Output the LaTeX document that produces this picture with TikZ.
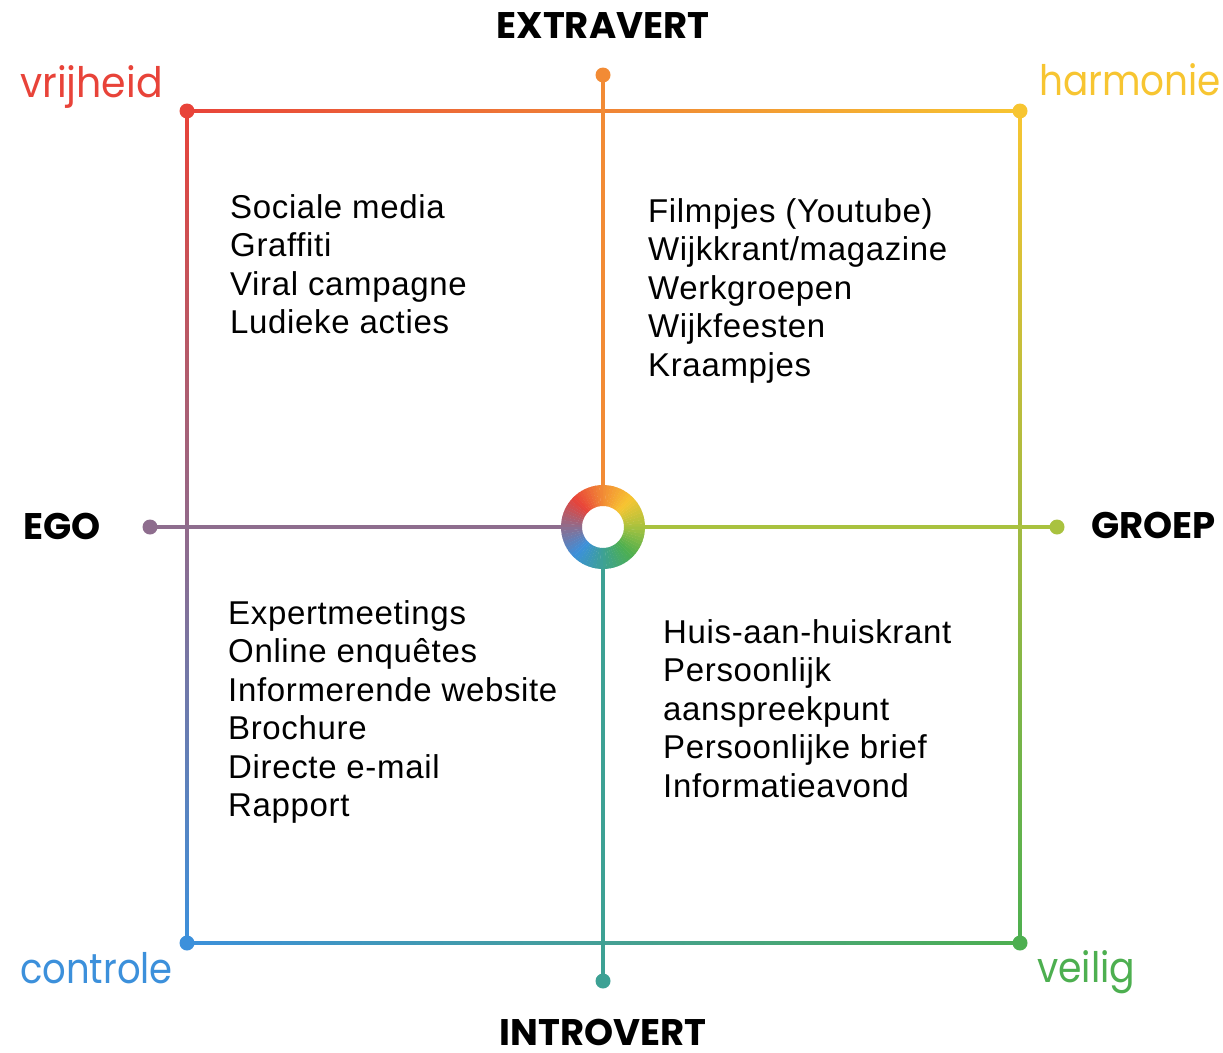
\documentclass[tikz,border=0pt]{standalone}
\usepackage{fontspec}
\setmainfont{Liberation Sans}[LetterSpace=2]
\newfontfamily\pop{Poppins}
\usetikzlibrary{calc}
\definecolor{cRe}{HTML}{E84339}
\definecolor{cOr}{HTML}{F28B35}
\definecolor{cYe}{HTML}{F7C531}
\definecolor{cPu}{HTML}{8E6D8E}
\definecolor{cGr}{HTML}{A9C23F}
\definecolor{cBl}{HTML}{3C90DB}
\definecolor{cTe}{HTML}{3DA194}
\definecolor{cGn}{HTML}{4DAF50}
\newcommand{\polefit}[1]{\scalebox{0.9}[1]{#1}}
\tikzset{
  dot/.style={circle,inner sep=0pt,minimum size=15pt},
  body/.style={font=\fontsize{33}{38.5}\selectfont,align=left,anchor=base west,inner sep=0pt},
  pole/.style={font=\pop\fontsize{42}{42}\selectfont,anchor=base west,inner sep=0pt},
  axislabel/.style={font=\pop\bfseries\fontsize{37}{37}\selectfont,inner sep=0pt,text depth=0pt},
  axisline/.style={line width=3.5pt}
}
\begin{document}
\begin{tikzpicture}[x=1pt,y=1pt]
\useasboundingbox (0,0) rectangle (1223,-1052);
% key points
\coordinate (tl) at (187,-111);
\coordinate (tr) at (1020,-111);
\coordinate (bl) at (187,-943);
\coordinate (br) at (1020,-943);
\coordinate (c) at (603,-527);
\coordinate (top) at (603,-75);
\coordinate (bot) at (603,-981);
\coordinate (lft) at (150,-527);
\coordinate (rgt) at (1057,-527);
% square edges with gradients
\shade[left color=cRe,right color=cYe] ($(tl)+(0,1.75)$) rectangle ($(tr)+(0,-1.75)$);
\shade[left color=cBl,right color=cGn] ($(bl)+(0,1.75)$) rectangle ($(br)+(0,-1.75)$);
\shade[top color=cRe,bottom color=cBl] ($(tl)+(-1.75,0)$) rectangle ($(bl)+(1.75,0)$);
\shade[top color=cYe,bottom color=cGn] ($(tr)+(-1.75,0)$) rectangle ($(br)+(1.75,0)$);
% axes
\draw[axisline,cOr] (top) -- (c);
\draw[axisline,cTe] (c) -- (bot);
\draw[axisline,cPu] (lft) -- (c);
\draw[axisline,cGr] (c) -- (rgt);
% dots
\node[dot,fill=cRe] (dtl) at (tl) {};
\node[dot,fill=cYe] (dtr) at (tr) {};
\node[dot,fill=cBl] (dbl) at (bl) {};
\node[dot,fill=cGn] (dbr) at (br) {};
\node[dot,fill=cOr] (dtop) at (top) {};
\node[dot,fill=cTe] (dbot) at (bot) {};
\node[dot,fill=cPu] (dlft) at (lft) {};
\node[dot,fill=cGr] (drgt) at (rgt) {};
% ring
\begin{scope}[shift={(c)}]
\fill[white] (0,0) circle[radius=42pt];
\foreach \a/\ca/\cb in {0/cGr/cYe,45/cYe/cOr,90/cOr/cRe,135/cRe/cPu,180/cPu/cBl,225/cBl/cTe,270/cTe/cGn,315/cGn/cGr}{
  \foreach \s in {0,...,8}{
    \pgfmathsetmacro\t{\a+\s*5}
    \pgfmathsetmacro\u{\a+\s*5+5.5}
    \pgfmathtruncatemacro\q{(\s+0.5)*100/9}
    \fill[\cb!\q!\ca] (\t:42pt) arc[start angle=\t,end angle=\u,radius=42pt] -- (\u:21pt) arc[start angle=\u,end angle=\t,radius=21pt] -- cycle;
  }
}
\end{scope}
% pole labels
\node[pole,text=cRe] (vrij) at (20,-97) {\scalebox{0.94}[1]{vrijheid}};
\node[pole,text=cYe] (harm) at (1039,-95) {\scalebox{0.89}[1]{harmonie}};
\node[pole,text=cBl] (contr) at (20,-983) {\scalebox{0.88}[1]{controle}};
\node[pole,text=cGn] (veil) at (1037,-982) {\polefit{veilig}};
% axis labels
\node[axislabel,anchor=base] (extra) at (603,-38) {EXTRAVERT};
\node[axislabel,anchor=base] (intro) at (603,-1045) {INTROVERT};
\node[axislabel,anchor=base west] (ego) at (23,-539) {EGO};
\node[axislabel,anchor=base east] (groep) at (1216,-538) {GROEP};
% quadrant texts (anchor = baseline of last line)
\node[body] (q1) at (230,-333.5) {Sociale media\\Graffiti\\Viral campagne\\Ludieke acties};
\node[body] (q2) at (648,-376) {Filmpjes (Youtube)\\Wijkkrant/magazine\\Werkgroepen\\Wijkfeesten\\Kraampjes};
\node[body] (q3) at (228,-816.5) {Expertmeetings\\Online enquêtes\\Informerende website\\Brochure\\Directe e-mail\\Rapport};
\node[body] (q4) at (663,-797) {Huis-aan-huiskrant\\Persoonlijk\\aanspreekpunt\\Persoonlijke brief\\Informatieavond};
\end{tikzpicture}
\end{document}
